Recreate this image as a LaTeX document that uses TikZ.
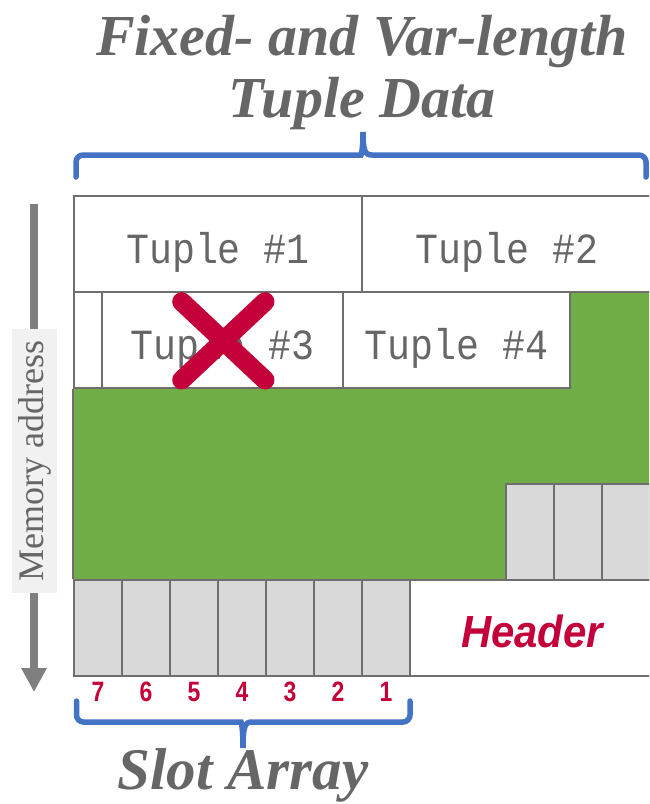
\documentclass[tikz,border=0pt]{standalone}
\usepackage{fontspec}
\setmainfont{Liberation Serif}
\newfontfamily\tuplefont[FakeStretch=0.89]{Liberation Mono}
\newfontfamily\hdrfont[FakeStretch=0.93]{Liberation Sans}
\newfontfamily\numfont[FakeStretch=0.82]{Liberation Sans}
\usetikzlibrary{arrows.meta,calc}

\definecolor{inkgrey}{HTML}{666666}
\definecolor{boxline}{HTML}{6E6E6E}
\definecolor{freegreen}{HTML}{70AD47}
\definecolor{slotgrey}{HTML}{D9D9D9}
\definecolor{crimson}{HTML}{C4003A}
\definecolor{braceblue}{HTML}{4472C4}
\definecolor{arrowgrey}{HTML}{7F7F7F}
\definecolor{labelbg}{HTML}{F1F1F1}

\begin{document}
\begin{tikzpicture}[x=1pt,y=-1pt,
  cell/.style={draw=boxline, line width=2.5pt, fill=white, inner sep=0pt,
               minimum height=96pt},
  slotcell/.style={cell, fill=slotgrey, minimum width=48pt},
  tupletext/.style={anchor=base, text=inkgrey, inner sep=0pt,
                    font=\tuplefont\fontsize{43}{43}\selectfont},
  hdrtext/.style={anchor=base, text=crimson, inner sep=0pt,
                  font=\hdrfont\bfseries\itshape\fontsize{45}{45}\selectfont},
  slotnum/.style={anchor=base, text=crimson, inner sep=0pt,
                  font=\numfont\bfseries\fontsize{28}{28}\selectfont},
  bigtitle/.style={text=inkgrey, inner sep=0pt, align=center,
                   font=\bfseries\itshape\fontsize{58}{62}\selectfont},
  brace/.style={draw=braceblue, line width=5.5pt, line cap=round},
  cross/.style={draw=crimson, line width=19pt, line cap=round},
  memarrow/.style={draw=arrowgrey, line width=7.5pt,
                   -{Triangle[width=24pt,length=24pt]}},
  memlabel/.style={fill=labelbg, rotate=90, inner sep=0pt, text=inkgrey,
                   minimum width=264pt, minimum height=45pt,
                   font=\fontsize{36}{36}\selectfont}
]
\clip (0,0) rectangle (649,804);
\fill[white] (0,0) rectangle (649,804);

% free space between tuples and slots
\fill[freegreen] (74,292) rectangle (665,580);

% tuple rows
\node[cell, minimum width=288pt] (t1) at (218,244) {};
\node[cell, minimum width=290pt] (t2) at (507,244) {};
\node[cell, minimum width=28pt]  (gap) at (88,340) {};
\node[cell, minimum width=241pt] (t3) at (222.5,340) {};
\node[cell, minimum width=227pt] (t4) at (456.5,340) {};
\node[tupletext] at ([yshift=-19.5pt]t1.center) {Tuple \#1};
\node[tupletext] at ([yshift=-19.5pt]t2.center) {Tuple \#2};
\node[tupletext] at ([yshift=-19.5pt]t3.center) {Tuple \#3};
\node[tupletext] at ([yshift=-19.5pt]t4.center) {Tuple \#4};

% slots growing from the right
\node[slotcell] (r1) at (530,532) {};
\node[slotcell] (r2) at (578,532) {};
\node[slotcell] (r3) at (626,532) {};

% slot array and header
\foreach \i in {1,...,7} {
  \pgfmathtruncatemacro{\lab}{8-\i}
  \node[slotcell] (slot\lab) at (50+48*\i,628) {};
  \node[slotnum] at ([yshift=-73pt]slot\lab.center) {\lab};
}
\node[cell, minimum width=242pt] (hdr) at (531,628) {};
\node[hdrtext] at ([yshift=-19pt, xshift=1pt]hdr.center) {Header};

% left edge of the page beside the free space
\draw[boxline, line width=2.5pt] (gap.south west) -- (slot7.north west);

% deleted tuple
\coordinate (xa) at (181.7,301.7);
\coordinate (xb) at (265,380);
\coordinate (xc) at (265,301.7);
\coordinate (xd) at (181.7,380);
\draw[cross] (xa) -- (xb);
\draw[cross] (xc) -- (xd);

% memory address axis
\coordinate (memtop) at (34,204);
\coordinate (membot) at (34,692);
\draw[memarrow] (memtop) -- (membot);
\node[memlabel] (mem) at (34.5,461) {Memory address};

% braces
\draw[brace] (76,177) [rounded corners=7pt] -- (76,155) -- (354,155)
  [sharp corners] .. controls (361,155) and (363,151) .. (363,132)
  .. controls (363,151) and (365,155) .. (372,155)
  [rounded corners=7pt] -- (646,155) -- (646,177);
\draw[brace] (76.5,701) [rounded corners=7pt] -- (76.5,722) -- (234,722)
  [sharp corners] .. controls (241,722) and (243,726) .. (243,748)
  .. controls (243,726) and (245,722) .. (252,722)
  [rounded corners=7pt] -- (410,722) -- (410,701);

% captions
\node[bigtitle, anchor=north] (title) at (362,15) {Fixed- and Var-length\\Tuple Data};
\node[bigtitle, anchor=base, font=\bfseries\itshape\fontsize{59}{62}\selectfont]
  (slotcap) at (243,789) {Slot Array};
\end{tikzpicture}
\end{document}
